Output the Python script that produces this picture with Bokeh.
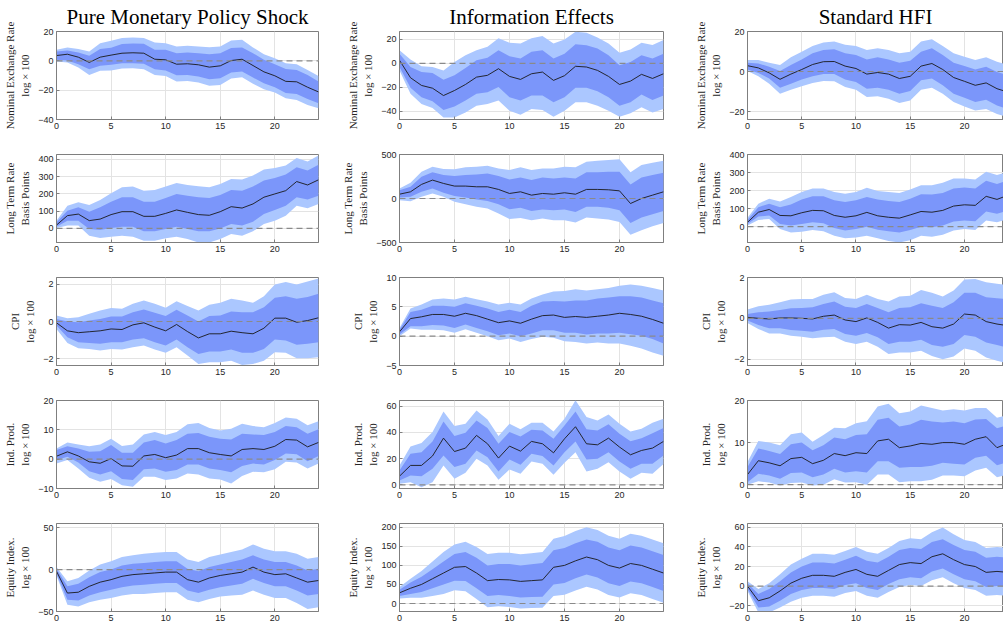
from bokeh.plotting import figure
from bokeh.models import ColumnDataSource, Span, FixedTicker, Range1d
from bokeh.layouts import column, row
from bokeh.embed import file_html
from bokeh.resources import INLINE

# ---------------- data ----------------
horizon = list(range(25))

col_titles = ["Pure Monetary Policy Shock", "Information Effects", "Standard HFI"]
row_labels = ["Nominal Exchange Rate\nlog \u00d7 100", "Long Term Rate\nBasis Points",
              "CPI\nlog \u00d7 100", "Ind. Prod.\nlog \u00d7 100", "Equity Index.\nlog \u00d7 100"]
x_ticks = [0, 5, 10, 15, 20]

# Nominal exchange rate
ner_pure_med = [3.6,4.5,2.5,-1.1,2.5,3.9,5.2,5.5,5.2,1.1,0.7,-2.3,-2.0,-2.7,-4.3,-3.4,0.2,1.1,-3.2,-7.5,-10.2,-14.0,-14.3,-18.0,-21.2]
ner_pure_ihi = [6.4,7.0,5.7,3.4,8.0,9.0,11.4,11.8,11.6,7.5,7.5,5.2,5.7,5.2,4.5,5.2,8.7,9.1,5.2,0.7,-2.3,-5.5,-6.2,-9.6,-14.1]
ner_pure_ohi = [7.5,9.1,8.0,6.4,12.0,13.7,15.5,15.9,15.5,12.5,12.0,9.8,10.3,9.8,9.3,9.8,13.9,14.4,9.1,4.5,1.8,-1.6,-2.3,-6.2,-10.3]
ner_pure_ilo = [0.7,0.2,-2.3,-5.7,-3.4,-2.7,-1.6,-1.6,-2.0,-5.7,-6.6,-9.8,-9.6,-10.7,-12.5,-11.8,-8.0,-7.3,-11.4,-15.3,-18.0,-22.0,-22.6,-26.0,-28.9]
ner_pure_olo = [-0.5,-1.1,-4.6,-9.6,-6.8,-6.6,-5.2,-5.0,-5.7,-9.6,-10.3,-14.1,-13.7,-14.8,-17.0,-16.4,-12.1,-11.2,-15.7,-19.4,-21.6,-25.5,-26.7,-30.1,-32.4]

ner_info_med = [2.5,-12.0,-18.4,-20.7,-26.8,-22.6,-17.6,-11.5,-10.0,-4.5,-10.9,-13.4,-8.7,-7.3,-14.2,-10.3,-2.5,-3.1,-5.9,-10.9,-17.6,-14.8,-9.2,-12.6,-8.7]
ner_info_ihi = [8.0,-3.0,-7.3,-8.0,-13.7,-10.0,-3.9,2.5,4.5,10.9,5.9,3.9,9.5,10.9,3.9,8.0,15.9,15.0,12.3,6.7,-1.7,1.1,6.7,3.9,8.0]
ner_info_ohi = [10.9,3.1,-2.5,-3.1,-5.9,1.1,6.7,10.9,13.7,20.7,17.1,16.5,20.7,22.6,16.5,19.8,26.2,25.4,21.5,16.5,8.7,11.5,17.1,15.1,19.3]
ner_info_ilo = [-3.0,-20.4,-28.2,-31.6,-38.8,-36.0,-31.0,-25.4,-24.0,-19.8,-28.2,-31.0,-26.8,-26.8,-32.4,-28.2,-20.4,-20.4,-23.2,-28.2,-35.2,-32.4,-26.0,-30.4,-26.8]
ner_info_olo = [-5.9,-25.4,-33.8,-37.2,-45.0,-45.0,-40.8,-35.2,-33.8,-31.0,-39.4,-42.7,-38.0,-38.8,-44.4,-39.4,-32.4,-32.4,-35.2,-39.4,-44.4,-41.6,-36.6,-40.8,-38.0]

ner_hfi_med = [2.9,1.8,-0.7,-3.9,-1.3,1.0,3.5,4.9,5.0,2.7,1.5,-1.3,-0.5,-1.3,-3.5,-2.4,2.7,4.0,1.0,-3.0,-4.9,-6.9,-5.7,-8.6,-10.3]
ner_hfi_ihi = [4.4,4.0,2.4,0.3,3.2,6.0,9.1,10.8,11.1,9.1,8.2,6.0,7.1,6.0,4.4,5.4,9.9,11.6,8.2,4.4,2.7,1.0,2.4,-0.2,-1.8]
ner_hfi_ohi = [5.7,5.7,4.4,3.2,7.1,9.9,12.8,14.5,15.0,13.4,12.8,10.8,11.6,10.8,9.1,9.9,15.0,16.1,12.8,9.1,7.4,5.7,7.1,4.9,3.2]
ner_hfi_ilo = [1.0,-0.7,-3.5,-8.1,-6.1,-4.0,-2.4,-1.3,-1.3,-4.0,-5.2,-8.6,-8.1,-9.1,-11.1,-9.7,-4.4,-3.5,-6.9,-11.1,-13.1,-15.3,-14.1,-17.0,-18.7]
ner_hfi_olo = [0.2,-2.4,-6.1,-11.1,-9.1,-7.4,-5.7,-4.7,-4.9,-7.7,-9.1,-12.8,-12.4,-13.6,-15.8,-14.5,-9.1,-8.1,-11.1,-15.3,-17.5,-19.5,-18.7,-21.2,-22.9]

# Long term rate
ltr_pure_med = [19,74,83,45,54,80,97,97,70,70,87,107,93,80,76,97,126,118,142,181,200,219,272,252,282]
ltr_pure_ihi = [35,103,122,97,122,155,181,181,155,155,177,200,190,181,177,194,223,219,243,278,293,313,355,336,369]
ltr_pure_ohi = [45,132,151,136,165,204,239,243,219,223,243,264,252,245,239,258,287,284,307,342,350,365,408,388,423]
ltr_pure_ilo = [10,45,45,-4,-10,2,10,10,-17,-17,-4,10,-4,-17,-17,0,25,16,39,83,107,132,181,167,190]
ltr_pure_olo = [2,16,16,-43,-56,-49,-43,-49,-72,-72,-58,-49,-62,-82,-82,-62,-33,-43,-17,25,45,74,132,117,142]

ltr_info_med = [49,76,160,209,171,141,141,133,133,103,57,76,38,57,49,65,49,103,103,99,87,-57,0,38,76]
ltr_info_ihi = [95,133,247,297,266,255,266,274,285,255,217,240,209,240,228,240,228,297,297,304,304,160,240,266,293]
ltr_info_ohi = [114,179,304,361,335,331,354,361,373,342,323,354,323,342,342,361,354,418,430,437,445,297,380,407,430]
ltr_info_ilo = [11,19,76,114,65,27,11,-11,-27,-65,-122,-106,-141,-125,-133,-125,-152,-95,-95,-106,-133,-278,-217,-179,-141]
ltr_info_olo = [-19,-30,19,57,19,-38,-65,-95,-114,-171,-232,-221,-247,-228,-247,-247,-274,-217,-228,-240,-266,-411,-361,-316,-278]

ltr_hfi_med = [24,80,95,62,60,77,90,88,62,52,60,79,60,52,47,65,84,80,90,114,121,118,168,151,174]
ltr_hfi_ihi = [37,108,127,108,123,150,168,168,146,136,146,164,150,142,136,155,179,178,187,211,217,211,254,236,258]
ltr_hfi_ohi = [49,127,155,140,164,192,211,211,192,183,192,215,198,192,187,206,230,230,243,267,267,262,305,286,305]
ltr_hfi_ilo = [15,56,62,15,6,15,24,19,-7,-22,-13,0,-17,-26,-32,-19,0,-4,6,28,34,30,84,71,90]
ltr_hfi_olo = [6,37,43,-13,-32,-28,-19,-26,-50,-64,-60,-50,-65,-79,-88,-75,-50,-56,-45,-22,-13,-19,34,24,43]

# CPI
cpi_pure_med = [-0.07,-0.5,-0.6,-0.55,-0.5,-0.4,-0.43,-0.18,-0.07,-0.3,-0.5,-0.16,-0.54,-0.88,-0.66,-0.66,-0.52,-0.6,-0.66,-0.36,0.18,0.18,-0.04,0.05,0.2]
cpi_pure_ihi = [0.14,0.0,-0.04,0.05,0.14,0.27,0.27,0.5,0.65,0.47,0.29,0.63,0.32,0.0,0.29,0.32,0.54,0.5,0.5,0.77,1.27,1.35,1.22,1.31,1.49]
cpi_pure_ohi = [0.32,0.18,0.23,0.41,0.59,0.72,0.68,0.95,1.13,0.95,0.74,1.09,0.83,0.59,0.9,1.0,1.22,1.13,1.0,1.36,1.98,2.12,1.98,2.15,2.3]
cpi_pure_ilo = [-0.22,-0.84,-1.11,-1.15,-1.2,-1.11,-1.11,-0.97,-0.9,-1.11,-1.29,-0.97,-1.38,-1.74,-1.61,-1.61,-1.5,-1.68,-1.68,-1.47,-0.97,-1.02,-1.25,-1.2,-1.11]
cpi_pure_olo = [-0.4,-1.15,-1.43,-1.47,-1.56,-1.47,-1.5,-1.38,-1.29,-1.5,-1.68,-1.38,-1.83,-2.28,-2.19,-2.19,-2.1,-2.33,-2.28,-2.1,-1.65,-1.68,-1.97,-1.97,-1.92]

cpi_info_med = [0.74,3.0,3.3,3.7,3.7,3.4,3.9,3.5,2.9,2.3,2.6,2.2,2.9,3.5,3.6,3.2,3.35,3.2,3.4,3.6,3.9,3.7,3.4,2.85,2.2]
cpi_info_ihi = [1.1,4.1,4.5,5.2,5.2,5.0,5.6,5.2,4.7,4.1,4.5,4.1,5.2,5.9,6.0,5.9,6.1,6.1,6.4,6.6,6.8,6.8,6.6,6.1,5.6]
cpi_info_ohi = [1.4,4.7,5.4,6.25,6.4,6.25,6.7,6.3,5.9,5.4,5.7,5.4,6.4,7.1,7.6,7.7,8.0,7.8,8.0,8.2,8.6,8.8,8.6,8.2,7.8]
cpi_info_ilo = [0.3,1.7,1.7,1.9,1.8,1.4,2.0,1.4,0.85,0.17,0.45,0.0,0.45,1.0,1.0,0.57,0.57,0.3,0.45,0.45,0.57,0.34,0.06,-0.5,-1.25]
cpi_info_olo = [0.0,1.3,1.1,1.1,1.0,0.6,1.2,0.6,0.0,-0.68,-0.4,-1.0,-0.5,-0.1,-0.28,-0.85,-1.0,-1.25,-1.1,-1.25,-1.25,-1.65,-2.1,-2.8,-3.35]

cpi_hfi_med = [0.05,0.0,-0.03,0.02,0.02,0.0,-0.03,0.1,0.16,-0.08,-0.16,0.02,-0.2,-0.48,-0.31,-0.33,-0.2,-0.41,-0.48,-0.28,0.21,0.16,-0.16,-0.28,-0.36]
cpi_hfi_ihi = [0.21,0.3,0.33,0.41,0.49,0.51,0.54,0.7,0.82,0.57,0.51,0.7,0.51,0.3,0.51,0.54,0.74,0.62,0.51,0.79,1.25,1.25,1.03,0.98,0.95]
cpi_hfi_ohi = [0.43,0.59,0.66,0.79,0.92,0.95,0.95,1.15,1.28,1.0,0.95,1.16,0.95,0.82,1.07,1.11,1.39,1.25,1.07,1.36,1.9,1.93,1.77,1.69,1.64]
cpi_hfi_ilo = [-0.11,-0.33,-0.49,-0.49,-0.57,-0.61,-0.66,-0.56,-0.52,-0.77,-0.85,-0.72,-0.93,-1.26,-1.15,-1.15,-1.05,-1.3,-1.39,-1.26,-0.82,-0.9,-1.18,-1.31,-1.43]
cpi_hfi_olo = [-0.23,-0.52,-0.74,-0.74,-0.85,-0.9,-0.98,-0.93,-0.9,-1.15,-1.26,-1.15,-1.39,-1.75,-1.67,-1.67,-1.59,-1.84,-2.0,-1.87,-1.48,-1.59,-1.92,-2.08,-2.21]

# Industrial production
ip_pure_med = [1.0,2.5,1.1,-0.9,-1.4,0.2,-2.3,-2.4,1.1,1.6,0.5,1.4,3.6,3.6,2.2,1.6,1.1,3.3,3.6,3.3,4.4,6.7,6.5,4.2,5.7]
ip_pure_ihi = [3.1,4.4,3.6,2.5,2.7,4.8,2.2,2.2,5.7,6.5,5.3,6.5,8.7,8.9,7.6,7.0,6.7,8.7,8.4,8.2,9.3,11.3,10.9,8.7,10.2]
ip_pure_ohi = [3.6,5.7,5.0,4.4,5.0,7.0,4.5,5.0,8.4,9.3,8.2,9.3,11.9,12.3,10.6,9.8,10.4,12.1,11.3,10.9,12.3,14.2,13.8,11.6,12.9]
ip_pure_ilo = [-0.3,0.8,-1.1,-4.1,-5.2,-4.1,-6.8,-7.1,-3.4,-3.2,-4.3,-3.7,-1.8,-1.8,-3.2,-3.7,-4.5,-2.3,-1.5,-1.8,-0.3,1.9,1.7,-0.7,1.1]
ip_pure_olo = [-1.5,-0.3,-3.2,-6.3,-7.7,-6.8,-8.9,-9.4,-6.0,-6.0,-7.1,-6.6,-4.9,-5.2,-6.6,-6.9,-8.3,-5.7,-4.3,-4.5,-3.4,-0.9,-1.1,-3.2,-1.5]

ip_info_med = [6.6,14.8,14.8,22.0,35.6,25.4,28.0,37.7,31.3,20.4,29.5,25.7,33.1,31.3,24.4,35.1,44.3,31.3,30.5,35.6,28.8,22.9,26.2,28.0,33.1]
ip_info_ihi = [10.9,23.7,24.9,33.1,48.3,37.2,39.7,49.1,43.3,31.3,40.2,36.9,42.0,41.5,35.1,45.3,56.0,42.3,41.5,46.1,38.9,33.3,35.6,39.4,43.3]
ip_info_ohi = [14.8,29.3,31.8,40.2,56.0,44.8,46.6,56.7,49.9,37.2,46.6,42.3,47.3,47.3,40.7,50.4,64.4,51.7,49.1,53.7,46.6,40.7,42.7,47.3,50.4]
ip_info_ilo = [3.3,7.1,6.6,12.2,22.4,13.5,16.0,26.2,21.1,10.2,19.3,15.3,23.7,22.0,14.8,24.9,33.1,19.3,19.8,24.9,17.8,12.2,16.0,16.0,22.4]
ip_info_olo = [0.8,2.0,-1.8,2.0,14.8,4.6,9.2,19.8,14.8,3.8,11.7,8.4,17.8,16.0,7.6,16.8,24.9,10.2,12.2,17.3,10.2,4.6,9.2,8.4,15.8]

ip_hfi_med = [2.4,5.7,5.2,4.5,6.2,6.5,5.0,5.8,7.4,6.9,7.6,7.4,10.4,10.8,8.8,9.2,9.8,9.6,10.0,10.0,9.6,10.8,11.4,8.8,9.8]
ip_hfi_ihi = [4.2,8.6,8.0,7.3,9.6,10.0,8.2,9.4,11.2,10.8,11.8,12.0,15.4,15.9,13.8,14.3,15.4,15.0,14.8,15.0,14.6,15.5,15.6,13.4,14.2]
ip_hfi_ohi = [5.4,10.4,10.0,9.4,12.0,12.4,10.2,11.8,13.5,13.4,14.6,15.1,18.6,19.2,17.0,17.4,18.8,18.2,17.6,17.9,17.6,18.2,18.2,15.9,16.6]
ip_hfi_ilo = [0.6,2.6,2.2,1.4,2.8,2.9,1.8,2.4,3.8,2.9,3.2,2.9,5.6,5.6,4.0,4.2,4.2,4.5,5.2,5.0,4.8,6.4,6.9,4.6,5.4]
ip_hfi_olo = [0.0,0.8,0.5,-0.2,0.4,0.5,-0.2,0.0,1.3,0.5,0.6,0.0,2.4,2.4,0.6,0.8,0.8,1.2,2.2,2.2,2.0,3.4,4.0,1.8,2.4]

# Equity index
eq_pure_med = [-2,-28,-27,-20,-15,-12,-8,-6,-5,-4,-3,-3,-12,-15,-10,-7,-5,-3,3,-3,-6,-5,-10,-15,-13]
eq_pure_ihi = [1,-20,-17,-9,-3,0,5,7,8,9,10,10,1,-2,3,6,9,12,17,12,9,9,5,-1,1]
eq_pure_ohi = [3,-14,-10,-1,6,10,15,17,19,20,21,21,12,9,15,18,21,24,30,25,22,22,19,13,15]
eq_pure_ilo = [-5,-36,-37,-31,-27,-24,-21,-19,-18,-17,-16,-16,-25,-28,-24,-21,-19,-17,-11,-16,-20,-20,-25,-31,-29]
eq_pure_olo = [-7,-42,-44,-39,-36,-34,-31,-29,-29,-28,-27,-27,-36,-39,-35,-32,-31,-30,-25,-30,-34,-34,-40,-47,-45]

eq_info_med = [28,40,50,65,80,95,97,80,60,63,62,58,60,62,95,100,112,122,115,100,93,105,100,90,80]
eq_info_ihi = [36,55,70,90,110,130,135,120,100,104,104,100,103,106,140,146,158,168,162,147,140,152,147,137,127]
eq_info_ohi = [43,65,85,110,135,155,162,148,130,133,133,129,132,135,170,177,190,200,193,178,170,183,178,168,158]
eq_info_ilo = [20,25,30,40,50,60,59,40,20,22,20,16,17,18,50,54,66,76,68,53,46,58,53,43,33]
eq_info_olo = [13,15,15,20,25,35,32,12,-10,-7,-9,-13,-12,-11,20,23,34,44,37,22,16,27,22,12,2]

eq_hfi_med = [0,-15,-12,-5,3,8,11,11,10,14,17,12,10,16,22,24,23,30,33,27,22,20,14,15,14]
eq_hfi_ihi = [3,-8,-3,5,14,20,24,24,23,27,31,26,24,30,37,39,38,45,48,42,37,35,29,30,29]
eq_hfi_ohi = [5,-3,3,12,22,28,33,33,32,36,40,35,33,39,46,49,48,55,60,53,47,45,39,40,39]
eq_hfi_ilo = [-3,-22,-21,-15,-8,-4,-2,-2,-3,1,3,-2,-4,2,7,9,8,15,18,12,7,5,-1,0,-1]
eq_hfi_olo = [-5,-27,-27,-22,-16,-12,-10,-10,-11,-7,-5,-10,-12,-6,-1,1,0,6,9,3,-2,-4,-10,-9,-10]

panels = [
    [(ner_pure_med, ner_pure_ilo, ner_pure_ihi, ner_pure_olo, ner_pure_ohi),
     (ner_info_med, ner_info_ilo, ner_info_ihi, ner_info_olo, ner_info_ohi),
     (ner_hfi_med, ner_hfi_ilo, ner_hfi_ihi, ner_hfi_olo, ner_hfi_ohi)],
    [(ltr_pure_med, ltr_pure_ilo, ltr_pure_ihi, ltr_pure_olo, ltr_pure_ohi),
     (ltr_info_med, ltr_info_ilo, ltr_info_ihi, ltr_info_olo, ltr_info_ohi),
     (ltr_hfi_med, ltr_hfi_ilo, ltr_hfi_ihi, ltr_hfi_olo, ltr_hfi_ohi)],
    [(cpi_pure_med, cpi_pure_ilo, cpi_pure_ihi, cpi_pure_olo, cpi_pure_ohi),
     (cpi_info_med, cpi_info_ilo, cpi_info_ihi, cpi_info_olo, cpi_info_ohi),
     (cpi_hfi_med, cpi_hfi_ilo, cpi_hfi_ihi, cpi_hfi_olo, cpi_hfi_ohi)],
    [(ip_pure_med, ip_pure_ilo, ip_pure_ihi, ip_pure_olo, ip_pure_ohi),
     (ip_info_med, ip_info_ilo, ip_info_ihi, ip_info_olo, ip_info_ohi),
     (ip_hfi_med, ip_hfi_ilo, ip_hfi_ihi, ip_hfi_olo, ip_hfi_ohi)],
    [(eq_pure_med, eq_pure_ilo, eq_pure_ihi, eq_pure_olo, eq_pure_ohi),
     (eq_info_med, eq_info_ilo, eq_info_ihi, eq_info_olo, eq_info_ohi),
     (eq_hfi_med, eq_hfi_ilo, eq_hfi_ihi, eq_hfi_olo, eq_hfi_ohi)],
]

# ---------------- layout / style ----------------
y_ranges = [
    [(-40, 20), (-46.7, 26.4), (-24, 20)],
    [(-82, 429), (-500, 500), (-88, 400)],
    [(-2.36, 2.36), (-5, 10), (-2.31, 2)],
    [(-10, 20), (-2.8, 64.3), (-0.9, 20)],
    [(-50, 55), (-21, 210), (-26, 64)],
]
y_ticks = [
    [[-40, -20, 0, 20], [-40, -20, 0, 20], [-20, 0, 20]],
    [[0, 100, 200, 300, 400], [-500, 0, 500], [0, 100, 200, 300, 400]],
    [[-2, 0, 2], [-5, 0, 5, 10], [-2, 0, 2]],
    [[-10, 0, 10, 20], [0, 20, 40, 60], [0, 10, 20]],
    [[-50, 0, 50], [0, 50, 100, 150, 200], [-20, 0, 20, 40, 60]],
]

COL_BL = [56, 62, 62]
COL_FW = [262, 264, 256]
COL_BR = [19, 22, 0]
X_END = [24, 24, 23.6]
FH = 88
ROW_BT = [31, 6, 6, 6, 6]
ROW_BB = [29, 29, 29, 29, 15]

LIGHT = "#abc7ff"
DARK = "#7b96fa"
AX = "#7f7f7f"
TXT = "#262626"


def make_panel(r, c):
    med, ilo, ihi, olo, ohi = panels[r][c]
    bl, fw, br = COL_BL[c], COL_FW[c], COL_BR[c]
    bt, bb = ROW_BT[r], ROW_BB[r]
    p = figure(width=bl + fw + br, height=bt + FH + bb,
               x_range=Range1d(0, X_END[c]), y_range=Range1d(*y_ranges[r][c]),
               output_backend="svg", toolbar_location=None,
               min_border_left=bl, min_border_right=br,
               min_border_top=bt, min_border_bottom=bb)
    src = ColumnDataSource(dict(h=horizon, med=med, ilo=ilo, ihi=ihi, olo=olo, ohi=ohi))
    p.varea(x="h", y1="olo", y2="ohi", source=src, fill_color=LIGHT)
    p.varea(x="h", y1="ilo", y2="ihi", source=src, fill_color=DARK)
    p.line(x="h", y="med", source=src, line_color="#1a1a1a", line_width=0.9)
    p.add_layout(Span(location=0, dimension="width", line_color="#8a8a8a",
                      line_dash="6 4", line_width=1.2))

    if r == 0:
        p.title.text = col_titles[c]
        p.title.align = "center"
        p.title.vertical_align = "middle"
        p.title.text_font = "Liberation Serif"
        p.title.text_font_size = "21px"
        p.title.text_font_style = "normal"
        p.title.text_color = "black"
        p.title.standoff = 4

    p.background_fill_color = "white"
    p.border_fill_color = "white"
    p.outline_line_color = AX
    p.outline_line_width = 1

    p.xaxis.ticker = FixedTicker(ticks=x_ticks)
    p.yaxis.ticker = FixedTicker(ticks=y_ticks[r][c])
    for ax in (p.xaxis[0], p.yaxis[0]):
        ax.axis_line_color = AX
        ax.major_tick_line_color = AX
        ax.major_tick_in = 3
        ax.major_tick_out = 0
        ax.minor_tick_line_color = None
        ax.major_label_text_font = "Liberation Sans"
        ax.major_label_text_font_size = "9px"
        ax.major_label_text_color = TXT
    p.xaxis.major_label_standoff = 3
    p.yaxis.major_label_standoff = 3

    p.yaxis.axis_label = row_labels[r]
    p.yaxis.axis_label_text_font = "Liberation Serif"
    p.yaxis.axis_label_text_font_size = "11px"
    p.yaxis.axis_label_text_font_style = "normal"
    p.yaxis.axis_label_text_color = TXT
    p.yaxis.axis_label_text_line_height = 1.3
    p.yaxis.axis_label_standoff = 4

    p.xgrid.grid_line_color = "#e3e3e3"
    p.ygrid.grid_line_color = "#e3e3e3"
    return p


rows = []
for r in range(5):
    rows.append(row(*[make_panel(r, c) for c in range(3)], spacing=0))

layout = column(*rows, spacing=0)

open("out.html", "w").write(file_html(layout, INLINE, title="Impulse responses"))
